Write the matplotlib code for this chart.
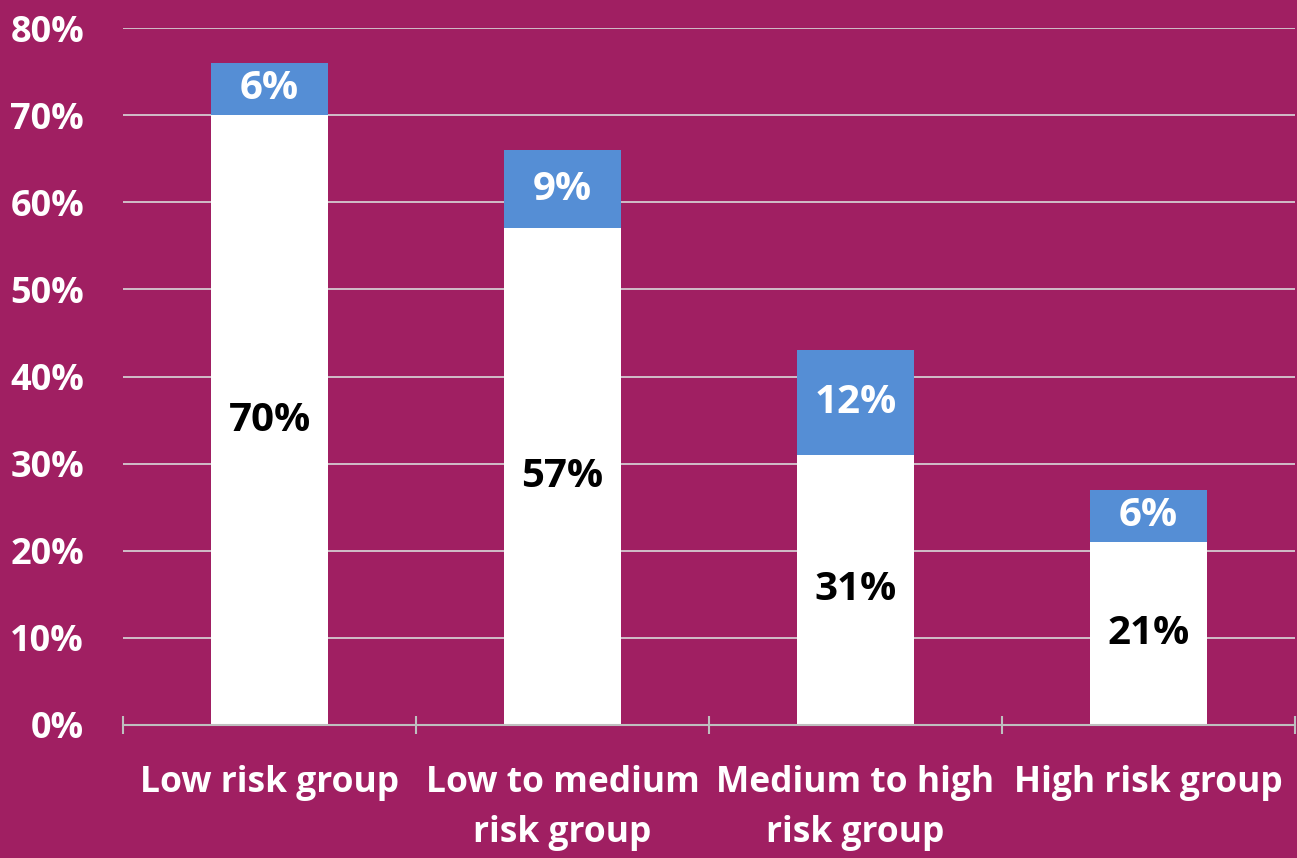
import matplotlib.pyplot as plt
import numpy as np

categories = ["Low risk group", "Low to medium\nrisk group", "Medium to high\nrisk group", "High risk group"]
base_values = [70, 57, 31, 21]
top_values = [6, 9, 12, 6]
yticks = [0, 10, 20, 30, 40, 50, 60, 70, 80]

bg = "#A01F62"
blue = "#558ED5"
font = "Open Sans"

fig = plt.figure(figsize=(12.97, 8.58), dpi=100)
fig.patch.set_facecolor(bg)
ax = fig.add_axes([123 / 1297, 1 - 725 / 858, (1295 - 123) / 1297, (725 - 28) / 858])
ax.set_facecolor(bg)

x = np.arange(len(categories))
ax.bar(x, base_values, width=0.4, color="white", zorder=3)
ax.bar(x, top_values, width=0.4, bottom=base_values, color=blue, zorder=3)

for i in range(len(categories)):
    ax.text(x[i], base_values[i] / 2, f"{base_values[i]}%", ha="center", va="center",
            fontsize=29, fontweight="bold", color="black", family=font, zorder=4)
    ax.text(x[i], base_values[i] + top_values[i] / 2, f"{top_values[i]}%", ha="center", va="center",
            fontsize=29, fontweight="bold", color="white", family=font, zorder=4)

ax.set_xlim(-0.5, len(categories) - 0.5)
ax.set_ylim(0, 80)
ax.set_yticks(yticks)
ax.set_yticklabels([f"{v}%" for v in yticks], fontsize=26, fontweight="bold", color="white", family=font)
ax.tick_params(axis="y", length=0, pad=28)
ax.grid(axis="y", color="#D9D9D9", linewidth=1.2, zorder=1)

# category labels between boundary ticks
ax.set_xticks(np.arange(-0.5, len(categories), 1.0))
ax.set_xticklabels([])
ax.set_xticks(x, minor=True)
ax.set_xticklabels(categories, minor=True, fontsize=25.5, fontweight="bold", color="white",
                   family=font, linespacing=1.52)
ax.tick_params(axis="x", which="minor", length=0, pad=29)
ax.tick_params(axis="x", which="major", length=13, width=1.5, color="#BFBFBF", direction="inout")

for side in ["top", "right", "left"]:
    ax.spines[side].set_visible(False)
ax.spines["bottom"].set_color("#BFBFBF")
ax.spines["bottom"].set_linewidth(1.5)
ax.spines["bottom"].set_zorder(5)

fig.savefig("out.png", dpi=100, facecolor=bg)
